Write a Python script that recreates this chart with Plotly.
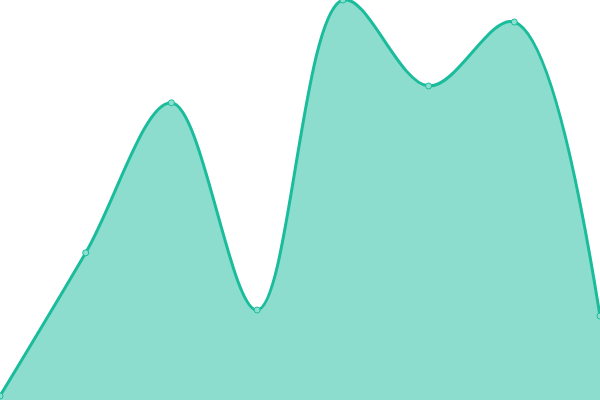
import plotly.graph_objects as go

# data points (0-100 scale)
x_vals = [0, 1, 2, 3, 4, 5, 6, 7]
y_vals = [1, 36.8, 74.3, 22.5, 100, 78.5, 94.5, 21]

line_color = '#1abc9c'

fig = go.Figure()

fig.add_trace(go.Scatter(
    x=x_vals,
    y=y_vals,
    mode='lines+markers',
    line=dict(color=line_color, width=3, shape='spline', smoothing=1),
    fill='tozeroy',
    fillcolor='rgba(26, 188, 156, 0.5)',
    marker=dict(size=6, color='#8ce0d0', line=dict(color=line_color, width=1)),
    hoverinfo='skip'
))

fig.update_layout(
    width=600,
    height=400,
    margin=dict(l=0, r=0, t=0, b=0),
    paper_bgcolor='white',
    plot_bgcolor='white',
    showlegend=False,
    xaxis=dict(range=[0, 7], visible=False, fixedrange=True),
    yaxis=dict(range=[0, 100], visible=False, fixedrange=True),
)

# page body has an 8px default margin, drop it so the chart fills the window
fig.write_html("out.html", config={'displayModeBar': False},
               post_script="document.body.style.margin='0';")
